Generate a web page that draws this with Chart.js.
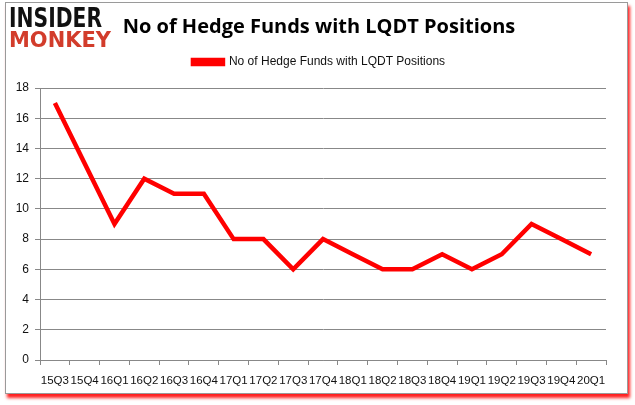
<!DOCTYPE html>
<html>
<head>
<meta charset="utf-8">
<script src="https://cdn.jsdelivr.net/npm/chart.js@4/dist/chart.umd.min.js"></script>
<style>
  html, body { margin: 0; padding: 0; background: #fff; }
  #frame {
    position: absolute; left: 5px; top: 2px; width: 621px; height: 390px;
    border: 1px solid #9a9a9a; box-shadow: 2px 4px 3px #ff2020;
    background: #fff;
  }
  #wrap { position: absolute; left: 0; top: 0; width: 635px; height: 405px; }
  .logo { position: absolute; left: 9px; font-family: "DejaVu Sans", sans-serif; font-weight: bold; line-height: 1; white-space: nowrap; transform-origin: left top; }
  #logo1 { top: 5px; font-size: 26px; color: #111; }
  #logo2 { top: 29px; font-size: 22px; color: #d23c2b; }
</style>
</head>
<body>
<div id="frame"></div>
<div id="wrap"><canvas id="chart" width="635" height="405"></canvas></div>
<div class="logo" id="logo1" data-w="93">INSIDER</div>
<div class="logo" id="logo2" data-w="102">MONKEY</div>
<script>
const quarters = ['15Q3','15Q4','16Q1','16Q2','16Q3','16Q4','17Q1','17Q2','17Q3','17Q4',
                  '18Q1','18Q2','18Q3','18Q4','19Q1','19Q2','19Q3','19Q4','20Q1'];
const funds = [17,13,9,12,11,11,8,8,6,8,7,6,6,7,6,7,9,8,7];
const seriesName = 'No of Hedge Funds with LQDT Positions';
const chartTitle = 'No of Hedge Funds with LQDT Positions';

// squeeze the logo words to the width they have in the picture
document.querySelectorAll('.logo').forEach(el => {
    let w = el.getBoundingClientRect().width;
    el.style.transform = 'scaleX(' + (el.dataset.w / w) + ')';
});

// title and legend sit a bit right of the canvas centre,
// and there is some more room under the legend
const shiftHeader = {
    id: 'shiftHeader',
    afterInit(chart) {
        const lg = chart.legend;
        const fit = lg.fit.bind(lg);
        lg.fit = function () { fit(); this.height += 10; };
    },
    afterLayout(chart) {
        [chart.titleBlock, chart.legend].forEach(b => {
            if (b) { b.left += 16; b.right += 16; }
        });
    }
};

const canvas = document.getElementById('chart');
const chart = new Chart(canvas, {
    type: 'line',
    data: {
        labels: quarters,
        datasets: [{
            label: seriesName,
            data: funds,
            borderColor: '#ff0000',
            backgroundColor: '#ff0000',
            borderWidth: 4.5,
            pointRadius: 0,
            tension: 0,
            fill: false
        }]
    },
    options: {
        responsive: false,
        animation: false,
        layout: { padding: { left: 0, right: 29, top: 0, bottom: 0 } },
        plugins: {
            title: {
                display: true,
                text: chartTitle,
                color: '#000',
                font: { family: 'Open Sans', size: 20, weight: 'bold', lineHeight: 0.95 },
                padding: { top: 18, bottom: 0 }
            },
            legend: {
                position: 'top',
                labels: {
                    color: '#111',
                    font: { family: 'Liberation Sans', size: 12 },
                    boxWidth: 30,
                    boxHeight: 4,
                    padding: 19
                }
            },
            tooltip: { enabled: false }
        },
        scales: {
            x: {
                offset: true,
                grid: { offset: true, drawOnChartArea: false, drawTicks: true, tickLength: 5, color: '#888' },
                border: { color: '#888' },
                ticks: { color: '#111', font: { family: 'Liberation Sans', size: 11.5 }, maxRotation: 0, autoSkip: false, padding: 9 },
                afterFit: (s) => { s.height = 45; }
            },
            y: {
                min: 0,
                max: 18,
                ticks: { stepSize: 2, color: '#111', font: { family: 'Liberation Sans', size: 12 }, padding: 6 },
                grid: { color: '#888', tickLength: 5 },
                border: { color: '#888' },
                afterFit: (s) => { s.width = 40; }
            }
        }
    },
    plugins: [shiftHeader]
});
</script>
</body>
</html>
